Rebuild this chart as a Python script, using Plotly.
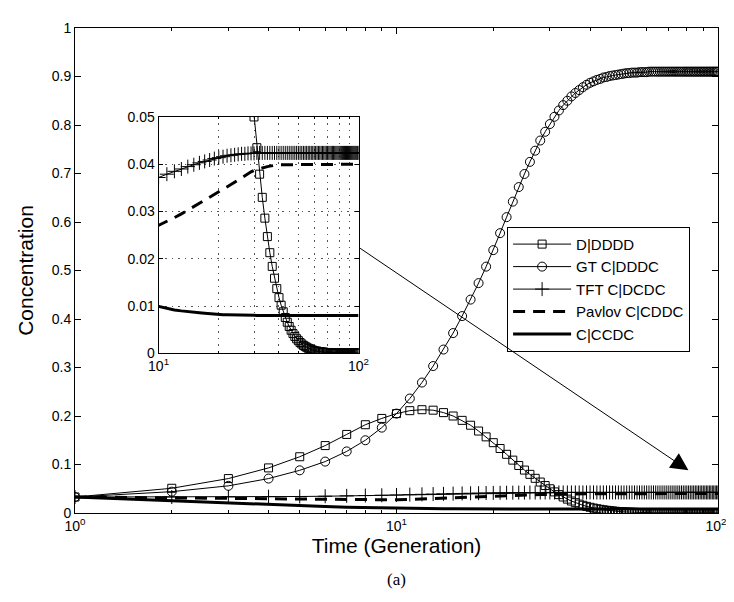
import plotly.graph_objects as go

generations = list(range(1, 101))

d_dddd = [0.033, 0.051, 0.071, 0.093, 0.116, 0.139, 0.162, 0.182, 0.195, 0.205,
          0.211, 0.213, 0.212, 0.207, 0.200, 0.191, 0.181, 0.169, 0.157, 0.145,
          0.133, 0.121, 0.109, 0.098, 0.0885, 0.0797, 0.0715, 0.0638, 0.0566, 0.0500,
          0.0435, 0.0379, 0.0330, 0.0286, 0.0247, 0.0213, 0.0184, 0.0159, 0.0137, 0.0118,
          0.0102, 0.0088, 0.0076, 0.0066, 0.0057, 0.0049, 0.0042, 0.0036, 0.0031, 0.0027,
          0.0023, 0.0020, 0.0017, 0.0015, 0.0013, 0.0011, 0.0010, 0.0008, 0.0007, 0.0006,
          0.0005, 0.0005, 0.0004, 0.0004, 0.0003, 0.0003, 0.0003, 0.0002, 0.0002, 0.0002,
          0.0002, 0.0001, 0.0001, 0.0001, 0.0001, 0.0001, 0.0001, 0.0001, 0.0001, 0.0001,
          0.0001, 0.0001, 0.0001, 0.0001, 0.0001, 0.0001, 0.0001, 0.0001, 0.0001, 0.0001,
          0.0001, 0.0001, 0.0001, 0.0001, 0.0001, 0.0001, 0.0001, 0.0001, 0.0001, 0.0001]

gt_cdddc = [0.033, 0.044, 0.056, 0.071, 0.088, 0.106, 0.127, 0.150, 0.176, 0.205,
            0.236, 0.269, 0.303, 0.337, 0.371, 0.406, 0.440, 0.474, 0.508, 0.542,
            0.577, 0.610, 0.642, 0.672, 0.699, 0.724, 0.747, 0.768, 0.786, 0.802,
            0.817, 0.830, 0.841, 0.850, 0.859, 0.866, 0.872, 0.878, 0.883, 0.887,
            0.890, 0.893, 0.895, 0.898, 0.899, 0.901, 0.902, 0.903, 0.904, 0.905,
            0.906, 0.907, 0.907, 0.908, 0.908, 0.908, 0.909, 0.909, 0.909, 0.909,
            0.910, 0.910, 0.910, 0.910, 0.910, 0.910, 0.910, 0.910, 0.910, 0.910,
            0.910, 0.910, 0.910, 0.910, 0.910, 0.910, 0.910, 0.910, 0.910, 0.910,
            0.910, 0.910, 0.910, 0.910, 0.910, 0.910, 0.910, 0.910, 0.910, 0.910,
            0.910, 0.910, 0.910, 0.910, 0.910, 0.910, 0.910, 0.910, 0.910, 0.910]

tft_cdcdc = [0.033, 0.033, 0.0332, 0.0336, 0.0340, 0.0346, 0.0353, 0.0360, 0.0366, 0.0372,
             0.0379, 0.0385, 0.0390, 0.0395, 0.0399, 0.0403, 0.0406, 0.0409, 0.0412, 0.0414,
             0.0416, 0.0418, 0.0419, 0.0420, 0.0421, 0.0422, 0.0422, 0.0423, 0.0423, 0.0423,
             0.0424, 0.0424, 0.0424, 0.0424, 0.0424, 0.0424, 0.0424, 0.0424, 0.0424, 0.0424,
             0.0424, 0.0424, 0.0424, 0.0424, 0.0424, 0.0424, 0.0424, 0.0424, 0.0424, 0.0424,
             0.0424, 0.0424, 0.0424, 0.0424, 0.0424, 0.0424, 0.0424, 0.0424, 0.0424, 0.0424,
             0.0424, 0.0424, 0.0424, 0.0424, 0.0424, 0.0424, 0.0424, 0.0424, 0.0424, 0.0424,
             0.0424, 0.0424, 0.0424, 0.0424, 0.0424, 0.0424, 0.0424, 0.0424, 0.0424, 0.0424,
             0.0424, 0.0424, 0.0424, 0.0424, 0.0424, 0.0424, 0.0424, 0.0424, 0.0424, 0.0424,
             0.0424, 0.0424, 0.0424, 0.0424, 0.0424, 0.0424, 0.0424, 0.0424, 0.0424, 0.0424]

pavlov_ccddc = [0.033, 0.0310, 0.0297, 0.0288, 0.0281, 0.0276, 0.0273, 0.0271, 0.0270, 0.0271,
                0.0279, 0.0287, 0.0295, 0.0303, 0.0310, 0.0317, 0.0323, 0.0329, 0.0335, 0.0341,
                0.0346, 0.0352, 0.0357, 0.0362, 0.0367, 0.0372, 0.0377, 0.0381, 0.0384, 0.0387,
                0.0389, 0.0391, 0.0393, 0.0394, 0.0395, 0.0396, 0.0397, 0.0398, 0.0398, 0.0399,
                0.0399, 0.0399, 0.0399, 0.0399, 0.0400, 0.0400, 0.0400, 0.0400, 0.0400, 0.0400,
                0.0400, 0.0400, 0.0400, 0.0400, 0.0400, 0.0400, 0.0400, 0.0400, 0.0400, 0.0400,
                0.0400, 0.0400, 0.0400, 0.0400, 0.0400, 0.0400, 0.0400, 0.0400, 0.0400, 0.0400,
                0.0400, 0.0400, 0.0400, 0.0400, 0.0400, 0.0400, 0.0400, 0.0400, 0.0400, 0.0400,
                0.0400, 0.0400, 0.0400, 0.0400, 0.0400, 0.0400, 0.0400, 0.0400, 0.0400, 0.0400,
                0.0400, 0.0400, 0.0400, 0.0400, 0.0400, 0.0400, 0.0400, 0.0400, 0.0400, 0.0400]

c_ccdc = [0.033, 0.0250, 0.0200, 0.0170, 0.0148, 0.0132, 0.0120, 0.0111, 0.0104, 0.0099,
          0.0095, 0.0092, 0.0090, 0.0088, 0.0087, 0.0086, 0.0085, 0.0084, 0.0083, 0.0083,
          0.0082, 0.0082, 0.0082, 0.0082, 0.0082, 0.0081, 0.0081, 0.0081, 0.0081, 0.0081,
          0.0080, 0.0080, 0.0080, 0.0080, 0.0080, 0.0080, 0.0080, 0.0080, 0.0080, 0.0080,
          0.0080, 0.0080, 0.0080, 0.0080, 0.0080, 0.0080, 0.0080, 0.0080, 0.0080, 0.0080,
          0.0080, 0.0080, 0.0080, 0.0080, 0.0080, 0.0080, 0.0080, 0.0080, 0.0080, 0.0080,
          0.0080, 0.0080, 0.0080, 0.0080, 0.0080, 0.0080, 0.0080, 0.0080, 0.0080, 0.0080,
          0.0080, 0.0080, 0.0080, 0.0080, 0.0080, 0.0080, 0.0080, 0.0080, 0.0080, 0.0080,
          0.0080, 0.0080, 0.0080, 0.0080, 0.0080, 0.0080, 0.0080, 0.0080, 0.0080, 0.0080,
          0.0080, 0.0080, 0.0080, 0.0080, 0.0080, 0.0080, 0.0080, 0.0080, 0.0080, 0.0080]

series_names = ["D|DDDD", "GT C|DDDC", "TFT C|DCDC", "Pavlov C|CDDC", "C|CCDC"]
main_ticks = [1, 10, 100]
main_ticktext = ["10<sup>0</sup>", "10<sup>1</sup>", "10<sup>2</sup>\u00a0"]
inset_ticks = [10, 100]
inset_ticktext = ["10<sup>1</sup>", "10<sup>2</sup>"]
minor_main = [2, 3, 4, 5, 6, 7, 8, 9, 20, 30, 40, 50, 60, 70, 80, 90]
minor_inset = [20, 30, 40, 50, 60, 70, 80, 90]

SANS = "Liberation Sans, Arial, Helvetica, sans-serif"
BLACK = "black"
GRID = "#555555"
GRID_DASH = "1.5px,5px"

styles = [
    dict(mode="lines+markers", line=dict(color=BLACK, width=1),
         marker=dict(symbol="square-open", size=8, color=BLACK, line=dict(width=1, color=BLACK))),
    dict(mode="lines+markers", line=dict(color=BLACK, width=1),
         marker=dict(symbol="circle-open", size=9, color=BLACK, line=dict(width=1, color=BLACK))),
    dict(mode="lines+markers", line=dict(color=BLACK, width=1),
         marker=dict(symbol="cross-thin-open", size=10, color=BLACK, line=dict(width=1, color=BLACK))),
    dict(mode="lines", line=dict(color=BLACK, width=3, dash="12px,8px")),
    dict(mode="lines", line=dict(color=BLACK, width=3)),
]
all_series = [d_dddd, gt_cdddc, tft_cdcdc, pavlov_ccddc, c_ccdc]

fig = go.Figure()
for name, vals, st in zip(series_names, all_series, styles):
    fig.add_trace(go.Scatter(x=generations, y=vals, name=name, xaxis="x", yaxis="y",
                             showlegend=True, **st))
for name, vals, st in zip(series_names, all_series, styles):
    fig.add_trace(go.Scatter(x=generations, y=vals, name=name, xaxis="x2", yaxis="y2",
                             showlegend=False, **st))

axis_common = dict(showline=True, linecolor=BLACK, linewidth=1, mirror="allticks",
                   ticks="inside", tickcolor=BLACK, zeroline=False,
                   tickfont=dict(family=SANS, size=14, color=BLACK))

fig.update_layout(
    width=734, height=602,
    margin=dict(l=67, r=14, t=13, b=97),
    paper_bgcolor="white", plot_bgcolor="white",
    font=dict(family=SANS, size=14, color=BLACK),
    xaxis=dict(type="log", range=[0, 2], domain=[0, 1], anchor="y",
               tickvals=main_ticks, ticktext=main_ticktext, ticklen=6, showgrid=False,
               minor=dict(tickvals=minor_main, ticks="inside", ticklen=3, tickcolor=BLACK, showgrid=False),
               title=dict(text="Time (Generation)", font=dict(family=SANS, size=21), standoff=4),
               **axis_common),
    yaxis=dict(range=[0, 1], dtick=0.1, domain=[0, 1], anchor="x", ticklen=6, showgrid=False,
               title=dict(text="Concentration", font=dict(family=SANS, size=21), standoff=12),
               **axis_common),
    xaxis2=dict(type="log", range=[1, 2], domain=[0.130, 0.441], anchor="y2",
                tickvals=inset_ticks, ticktext=inset_ticktext, ticklen=4,
                showgrid=True, gridcolor=GRID, gridwidth=1, griddash=GRID_DASH,
                minor=dict(tickvals=minor_inset, ticks="inside", ticklen=2, tickcolor=BLACK,
                           showgrid=True, gridcolor=GRID, gridwidth=1, griddash=GRID_DASH),
                **axis_common),
    yaxis2=dict(range=[0, 0.05], dtick=0.01, domain=[0.329, 0.8166], anchor="x2", ticklen=4,
                showgrid=True, gridcolor=GRID, gridwidth=1, griddash=GRID_DASH,
                **axis_common),
    legend=dict(x=0.672, y=0.59, xanchor="left", yanchor="top", bgcolor="white",
                bordercolor=BLACK, borderwidth=1, font=dict(family=SANS, size=15, color=BLACK),
                tracegroupgap=0, itemwidth=58),
    annotations=[
        dict(x=0.954, y=0.088, xref="x domain", yref="y domain",
             ax=0.441, ay=0.548, axref="x domain", ayref="y domain",
             text="", showarrow=True, arrowhead=2, arrowsize=3.5, arrowwidth=1, arrowcolor=BLACK),
        dict(x=0.5, y=-0.137, xref="paper", yref="paper", text="(a)", showarrow=False,
             font=dict(family="Liberation Serif, Times New Roman, serif", size=17, color=BLACK),
             xanchor="center", yanchor="middle"),
    ],
)

fig.write_html("out.html")
